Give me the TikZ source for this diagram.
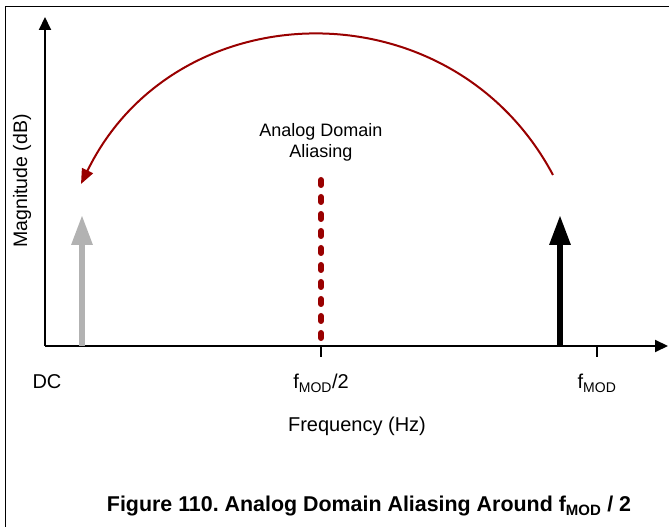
\documentclass[tikz,border=0pt]{standalone}
\usepackage{fontspec}
\setmainfont{Liberation Sans}
\usepackage{tikz}
\usetikzlibrary{arrows.meta,positioning,calc}
\definecolor{aliasred}{RGB}{153,0,0}
\definecolor{imagegray}{RGB}{178,178,178}
\frenchspacing

\begin{document}
\begin{tikzpicture}[x=1pt,y=1pt,
  axis/.style={line width=2pt,-{Triangle[length=13pt,width=12pt]}},
  tone/.style={line width=6pt,-{Triangle[length=30pt,width=20pt]}},
  tickmark/.style={line width=2pt},
  lbl/.style={font=\fontsize{20}{24}\selectfont,anchor=base},
  note/.style={font=\fontsize{18}{22}\selectfont,align=center,anchor=base}]
\useasboundingbox (0,0) rectangle (669,527);
% frame
\draw[line width=1pt] (5.5,0) -- (5.5,520.5) -- (669,520.5);
% axes
\coordinate (origin) at (45,181);
\coordinate (ytop) at (45,510);
\coordinate (xend) at (668,181);
\draw[axis] (origin) -- (ytop);
\draw[axis] (origin) -- (xend);
\coordinate (half) at (321,181);
\coordinate (full) at (597,181);
\draw[tickmark] (half) -- ++(0,-11);
\draw[tickmark] (full) -- ++(0,-11);
% tones
\coordinate (dcbase) at (82,181);
\coordinate (dctop) at (82,312);
\coordinate (modbase) at (560,181);
\coordinate (modtop) at (560,312);
\draw[tone,imagegray] (dcbase) -- (dctop);
\draw[tone,black] (modbase) -- (modtop);
% fold line
\coordinate (foldtop) at (321,347);
\draw[aliasred,line width=6pt,line cap=round,dash pattern=on 5pt off 12pt] (foldtop) -- (half);
% aliasing arc
\coordinate (arcstart) at (553,352);
\coordinate (arcend) at (81,343);
\draw[aliasred,line width=2pt,-{Triangle[length=15pt,width=12pt]}]
  (arcstart) to[out=118,in=64,looseness=1.17] (arcend);
% labels
\node[lbl] (dc) at (47,138) {DC};
\node[lbl] (halflbl) at (321,138) {f\textsubscript{MOD}/2};
\node[lbl] (fulllbl) at (597,138) {f\textsubscript{MOD}};
\node[lbl] (xlbl) at (357,95) {Frequency (Hz)};
\node[note] (alias) at (321,390) {Analog Domain};
\node[note] (alias2) at (321,369) {Aliasing};
\node[font=\fontsize{19.5}{23}\selectfont,rotate=90] (ylbl) at (22,346) {Magnitude (dB)};
\node[font=\bfseries\fontsize{21.4}{25}\selectfont,anchor=base] (caption) at (369,15)
  {Figure 110. Analog Domain Aliasing Around f\textsubscript{MOD} / 2};
\end{tikzpicture}
\end{document}
